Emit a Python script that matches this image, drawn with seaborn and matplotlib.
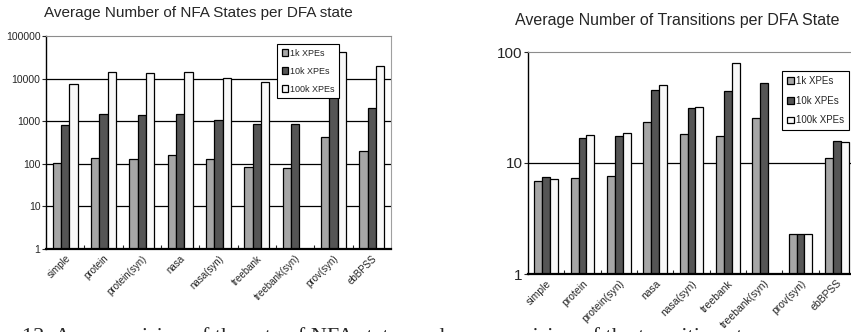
import numpy as np
import pandas as pd
import matplotlib
matplotlib.use('Agg')
import matplotlib.pyplot as plt
import seaborn as sns

# data
datasets = ['simple', 'protein', 'protein(syn)', 'nasa', 'nasa(syn)',
            'treebank', 'treebank(syn)', 'prov(syn)', 'ebBPSS']
series = ['1k XPEs', '10k XPEs', '100k XPEs']

nfa_1k = [106, 139, 132, 164, 132, 85, 81, 433, 200]
nfa_10k = [800, 1450, 1400, 1450, 1070, 860, 845, 4120, 2010]
nfa_100k = [7350, 14500, 13800, 14500, 10500, 8460, 1, 41400, 19800]

trans_1k = [6.9, 7.3, 7.7, 23.2, 18.3, 17.6, 25.4, 2.3, 11.1]
trans_10k = [7.5, 16.8, 17.4, 45.6, 31.3, 44.7, 52.4, 2.3, 15.7]
trans_100k = [7.2, 18.0, 18.6, 50.6, 31.9, 80.2, 1, 2.3, 15.4]

nfa_ticks = [1, 10, 100, 1000, 10000, 100000]
nfa_ticklabels = ['1', '10', '100', '1000', '10000', '100000']
trans_ticks = [1, 10, 100]
trans_ticklabels = ['1', '10', '100']

colors = ['#a6a6a6', '#555555', '#f8f8f8']

sns.set_style('white')
plt.rcParams['font.family'] = ['Liberation Sans', 'DejaVu Sans']


def long_form(a, b, c):
    rows = []
    for s, vals in zip(series, [a, b, c]):
        for d, v in zip(datasets, vals):
            rows.append({'dataset': d, 'series': s, 'value': v})
    return pd.DataFrame(rows)


fig = plt.figure(figsize=(8.51, 3.32), dpi=100)
ax1 = fig.add_axes([46 / 851, 1 - 249 / 332, 345 / 851, 213 / 332])
ax2 = fig.add_axes([528 / 851, 1 - 274 / 332, 327 / 851, 222 / 332])


def draw(ax, df, ylim, ticks, ticklabels, ytick_size, xtick_size, title, title_size,
         title_y, title_x, leg_anchor, leg_size, leg_spacing):
    sns.barplot(data=df, x='dataset', y='value', hue='series', order=datasets,
                hue_order=series, palette=colors, width=0.66, errorbar=None,
                edgecolor='black', linewidth=0.9, ax=ax, zorder=3)
    ax.set_yscale('log')
    ax.set_ylim(*ylim)
    ax.set_xlim(-0.5, len(datasets) - 0.5)
    ax.set_yticks(ticks)
    ax.set_yticklabels(ticklabels, fontsize=ytick_size)
    ax.yaxis.set_minor_locator(matplotlib.ticker.NullLocator())
    ax.tick_params(axis='y', which='major', left=True, length=3, width=0.8, pad=1)
    for t in ticks[1:-1]:
        ax.axhline(t, color='black', lw=0.9, zorder=1)
    ax.set_xticks(range(len(datasets)))
    ax.set_xticklabels(datasets, rotation=45, ha='right', rotation_mode='anchor',
                       fontsize=xtick_size)
    ax.tick_params(axis='x', which='major', length=0, pad=3)
    ax.set_xticks(np.arange(0.5, len(datasets) - 0.5, 1), minor=True)
    ax.tick_params(axis='x', which='minor', direction='in', length=3, width=0.8, bottom=True)
    ax.set_xlabel('')
    ax.set_ylabel('')
    ax.spines['left'].set_color('black')
    ax.spines['left'].set_linewidth(1.0)
    ax.spines['bottom'].set_color('black')
    ax.spines['bottom'].set_linewidth(1.6)
    ax.spines['bottom'].set_zorder(5)
    ax.spines['top'].set_color('#8c8c8c')
    ax.spines['right'].set_color('#a0a0a0')
    fig.text(title_x, title_y, title, fontsize=title_size, ha='center', va='center')
    handles, labels = ax.get_legend_handles_labels()
    ax.legend(handles, labels, loc='upper left', bbox_to_anchor=leg_anchor,
              bbox_transform=fig.transFigure, fontsize=leg_size, frameon=True,
              fancybox=False, edgecolor='black', framealpha=1, handlelength=0.7,
              handleheight=0.7, handletextpad=0.25, labelspacing=leg_spacing,
              borderpad=0.5, borderaxespad=0)
    ax.get_legend().get_frame().set_linewidth(0.8)


draw(ax1, long_form(nfa_1k, nfa_10k, nfa_100k), (1, 100000), nfa_ticks, nfa_ticklabels,
     7.5, 7, 'Average Number of NFA States per DFA state', 11, 1 - 13 / 332, 198 / 851,
     (277 / 851, 1 - 44 / 332), 6.5, 1.0)
draw(ax2, long_form(trans_1k, trans_10k, trans_100k), (1, 100), trans_ticks, trans_ticklabels,
     11, 7.5, 'Average Number of Transitions per DFA State', 11.5, 1 - 20 / 332, 677 / 851,
     (782 / 851, 1 - 71 / 332), 7, 1.0)

fig.text(22 / 851, 4.5 / 332,
         '12: A comparision of the rate of NFA states and a comparision of the transitions t',
         fontsize=16, family=['Liberation Serif', 'DejaVu Serif'], ha='left', va='top')

fig.savefig('out.png', dpi=100)
